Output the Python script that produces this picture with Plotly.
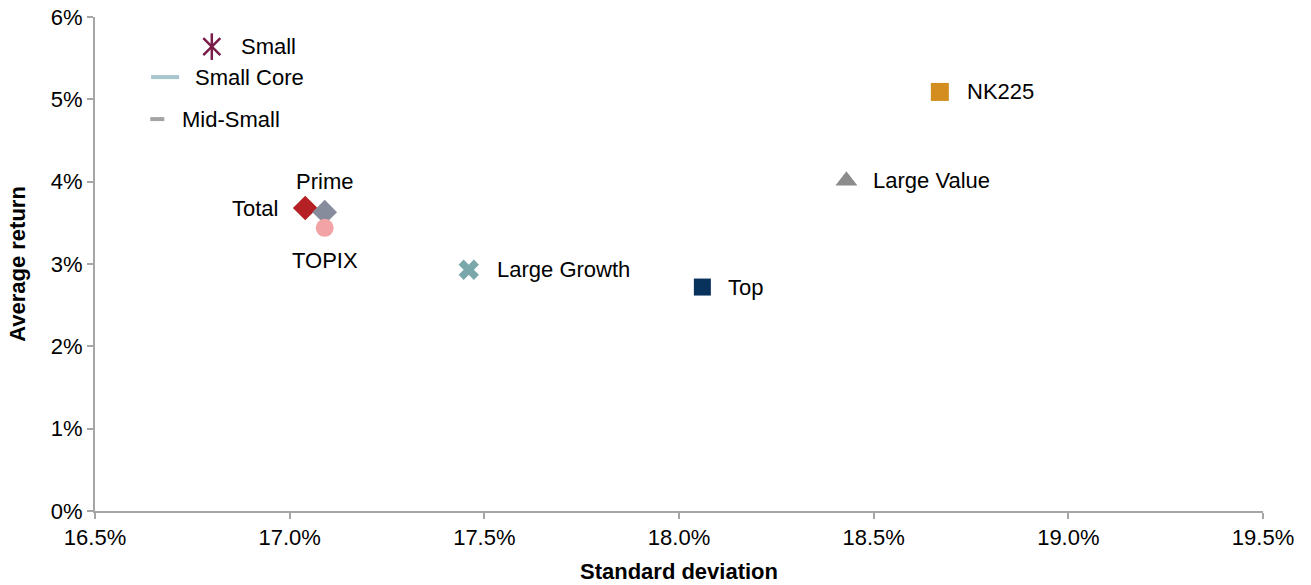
import plotly.graph_objects as go

names = ["Small", "Small Core", "Mid-Small", "Total", "Prime", "TOPIX",
         "Large Growth", "Top", "Large Value", "NK225"]
std_dev = [16.80, 16.68, 16.66, 17.04, 17.09, 17.09, 17.46, 18.06, 18.43, 18.67]
avg_ret = [5.64, 5.27, 4.76, 3.68, 3.63, 3.44, 2.93, 2.72, 4.01, 5.09]

styles = {
    "Small": dict(symbol="x-thin-open", color="#7A1B48", size=17),
    "Small Core": dict(symbol="line-ew-open", color="#A9C5CC", size=20),
    "Mid-Small": dict(symbol="line-ew-open", color="#A3A3A3", size=10),
    "Total": dict(symbol="diamond", color="#B52024", size=19),
    "Prime": dict(symbol="diamond", color="#878C9C", size=19),
    "TOPIX": dict(symbol="circle", color="#F2A3A5", size=18),
    "Large Growth": dict(symbol="x", color="#7AA7AA", size=18),
    "Top": dict(symbol="square", color="#08315C", size=17),
    "Large Value": dict(symbol="triangle-up", color="#8C8C8C", size=19),
    "NK225": dict(symbol="square", color="#D38E1F", size=18),
}
label_pos = {
    "Small": ("left", 27, 0),
    "Small Core": ("left", 28, 0),
    "Mid-Small": ("left", 23, 0),
    "Total": ("right", -25, 0),
    "Prime": ("center", 0, 31),
    "TOPIX": ("center", 0, -33),
    "Large Growth": ("left", 26, 0),
    "Top": ("left", 24, 0),
    "Large Value": ("left", 25, 0),
    "NK225": ("left", 25, 0),
}
FONT = "Liberation Sans, Arial"
FS = 22

fig = go.Figure()
for n, x, y in zip(names, std_dev, avg_ret):
    s = styles[n]
    lw = 2.5 if "open" in s["symbol"] else 0
    if n in ("Small Core", "Mid-Small"):
        lw = 4
    fig.add_trace(go.Scatter(
        x=[x], y=[y], mode="markers", name=n,
        marker=dict(symbol=s["symbol"], size=s["size"], color=s["color"],
                    line=dict(color=s["color"], width=lw)),
        showlegend=False, hoverinfo="x+y+name"))
    if n == "Small":
        fig.add_trace(go.Scatter(
            x=[x], y=[y], mode="markers", name=n,
            marker=dict(symbol="line-ns-open", size=19, color=s["color"],
                        line=dict(color=s["color"], width=2.5)),
            showlegend=False, hoverinfo="skip"))
    anc, xs, ys = label_pos[n]
    fig.add_annotation(x=x, y=y, text=n, showarrow=False, xanchor=anc,
                       yanchor="middle", xshift=xs, yshift=ys,
                       font=dict(family=FONT, size=FS, color="#000"))

axis_common = dict(showline=True, linecolor="#A6A6A6", linewidth=2,
                   ticks="outside", tickcolor="#A6A6A6", ticklen=6, tickwidth=2,
                   showgrid=False, zeroline=False, automargin=False,
                   ticklabeloverflow="allow",
                   tickfont=dict(family=FONT, size=FS, color="#000"))

fig.update_layout(
    width=1311, height=585,
    margin=dict(l=95, r=48, t=17, b=74),
    paper_bgcolor="white", plot_bgcolor="white",
    xaxis=dict(range=[16.5, 19.5], tickvals=[16.5, 17.0, 17.5, 18.0, 18.5, 19.0, 19.5],
               ticktext=["16.5%", "17.0%", "17.5%", "18.0%", "18.5%", "19.0%", "19.5%"],
               title=dict(text="<b>Standard deviation</b>", standoff=14,
                          font=dict(family=FONT, size=FS, color="#000")),
               **axis_common),
    yaxis=dict(range=[0, 6], tickvals=[0, 1, 2, 3, 4, 5, 6],
               ticktext=["0%", "1%", "2%", "3%", "4%", "5%", "6%"],
               title=dict(text="<b>Average return</b>", standoff=19,
                          font=dict(family=FONT, size=FS, color="#000")),
               **axis_common),
)
fig.write_html("out.html", config={"displayModeBar": False},
               post_script="document.body.style.margin='0';")
